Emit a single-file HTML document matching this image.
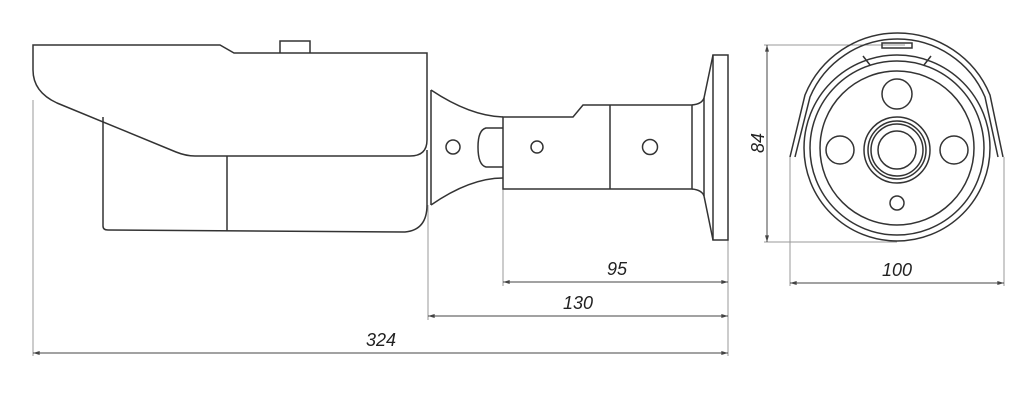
<!DOCTYPE html>
<html><head><style>
html,body{margin:0;padding:0;background:#fff;}
svg{display:block;}
text{font-family:"Liberation Sans",sans-serif;font-style:italic;font-size:18px;fill:#222;}
</style></head><body>
<svg width="1024" height="407" viewBox="0 0 1024 407" xmlns="http://www.w3.org/2000/svg">
<defs>
<marker id="a" viewBox="0 0 10 6" refX="10" refY="3" markerWidth="10" markerHeight="4" orient="auto-start-reverse"><path d="M0,0 L10,3 L0,6z" fill="#444"/></marker>
</defs>
<g fill="none" stroke="#999" stroke-width="1">
<line x1="33" y1="100" x2="33" y2="356"/>
<line x1="428" y1="205" x2="428" y2="320"/>
<line x1="503" y1="189" x2="503" y2="286"/>
<line x1="728" y1="240" x2="728" y2="356"/>
<line x1="790" y1="157" x2="790" y2="286"/>
<line x1="1004" y1="157" x2="1004" y2="286"/>
<line x1="764" y1="45" x2="905" y2="45"/>
<line x1="764" y1="242" x2="897" y2="242"/>
</g>
<g stroke="#444" stroke-width="1" marker-start="url(#a)" marker-end="url(#a)">
<line x1="767" y1="45" x2="767" y2="242"/>
<line x1="790" y1="283" x2="1004" y2="283"/>
<line x1="503" y1="282" x2="728" y2="282"/>
<line x1="428" y1="316" x2="728" y2="316"/>
<line x1="33" y1="353" x2="728" y2="353"/>
</g>
<text x="897" y="276" text-anchor="middle">100</text>
<text x="617" y="275" text-anchor="middle">95</text>
<text x="578" y="309" text-anchor="middle">130</text>
<text x="381" y="346" text-anchor="middle">324</text>
<text transform="translate(764,143) rotate(-90)" text-anchor="middle">84</text>

<g fill="none" stroke="#333" stroke-width="1.5">
<path d="M33,45 L220,45 L234,53 L427,53 L427,140 Q427,156 410,156 L195,156 Q186,156 176,152 L57,103 Q33,92 33,70 Z"/>
<path d="M280,53 L280,41 L310,41 L310,53"/>
<path d="M103,117 L103,226 Q103,230 108,230 L405,232 Q427,230 427,205 L427,150"/>
<line x1="227" y1="156" x2="227" y2="231"/>
<line x1="431" y1="90" x2="431" y2="205"/>
<path d="M431,90 Q470,116 503,117"/>
<path d="M431,205 Q470,178 503,178"/>
<circle cx="453" cy="147" r="7"/>
<path d="M503,128 L486,128 Q478,130 478,147 Q478,165 486,167 L503,167"/>
<path d="M503,117 L573,117 L583,105 L692,105 L692,189 L503,189 Z"/>
<line x1="610" y1="105" x2="610" y2="189"/>
<circle cx="537" cy="147" r="6"/>
<circle cx="650" cy="147" r="7.5"/>
<path d="M692,105 Q702,104 704,98 L713,55"/>
<path d="M692,189 Q702,190 704,196 L713,240"/>
<line x1="704" y1="98" x2="704" y2="196"/>
<rect x="713" y="55" width="15" height="185"/>
<path d="M790,157 L805,95 A100,100 0 0 1 990,95 L1003,157"/>
<path d="M795,157 L810,97 A95,95 0 0 1 985,97 L998,157"/>
<path d="M863,56 L870,65 M931,56 L924,65"/>
<rect x="882" y="43" width="30" height="5"/>
<circle cx="897" cy="148" r="93"/>
<circle cx="897" cy="148" r="87"/>
<circle cx="897" cy="148" r="77"/>
<circle cx="897" cy="94" r="15"/>
<circle cx="840" cy="150" r="14"/>
<circle cx="954" cy="150" r="14"/>
<circle cx="897" cy="203" r="7"/>
<circle cx="897" cy="150" r="33"/>
<circle cx="897" cy="150" r="29"/>
<circle cx="897" cy="150" r="26"/>
<circle cx="897" cy="150" r="19"/>
</g>
</svg>
</body></html>
